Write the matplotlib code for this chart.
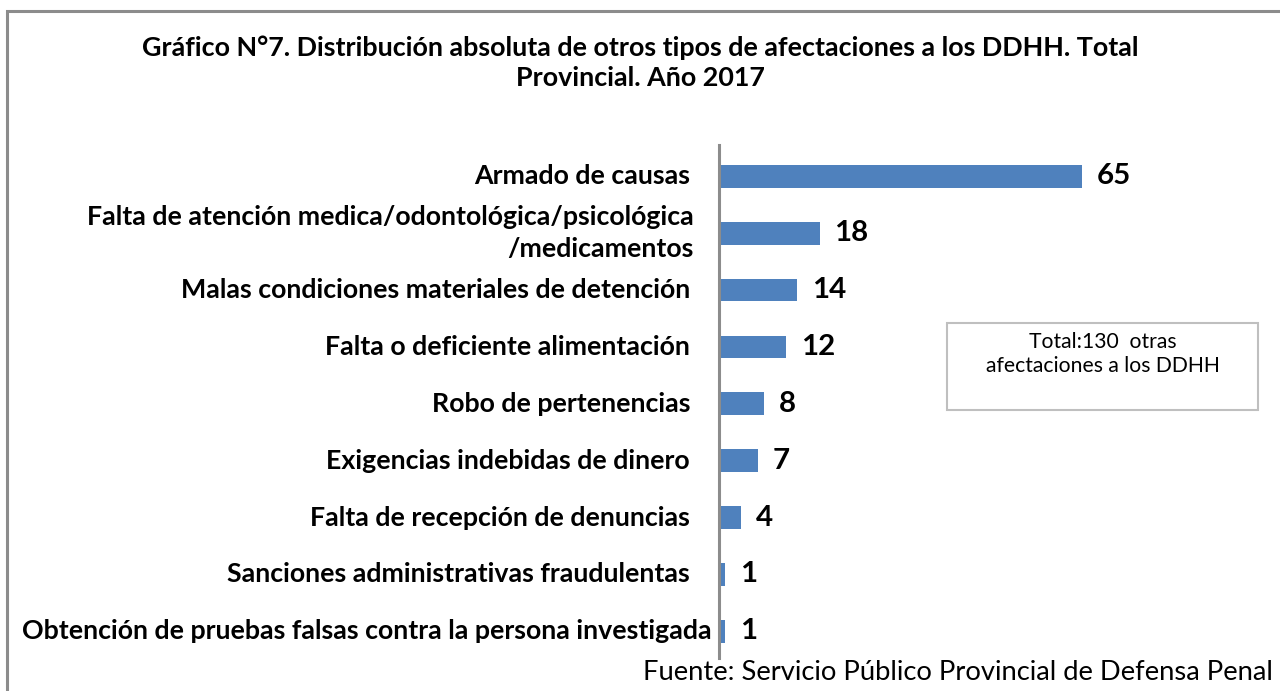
import matplotlib
matplotlib.use("Agg")
import matplotlib.pyplot as plt
from matplotlib.patches import Rectangle

categories = [
    "Armado de causas",
    "Falta de atención medica/odontológica/psicológica\n/medicamentos",
    "Malas condiciones materiales de detención",
    "Falta o deficiente alimentación",
    "Robo de pertenencias",
    "Exigencias indebidas de dinero",
    "Falta de recepción de denuncias",
    "Sanciones administrativas fraudulentas",
    "Obtención de pruebas falsas contra la persona investigada",
]
values = [65, 18, 14, 12, 8, 7, 4, 1, 1]
title = "Gráfico N°7. Distribución absoluta de otros tipos de afectaciones a los DDHH. Total\nProvincial. Año 2017"
total_note = "Total:130  otras\nafectaciones a los DDHH"
source = "Fuente: Servicio Público Provincial de Defensa Penal"

W, H = 1280, 691
DPI = 100
FONT = "Lato"
BAR = "#4F81BD"
GRAY = "#8C8C8C"

fig = plt.figure(figsize=(W / DPI, H / DPI), dpi=DPI)
fig.patch.set_facecolor("white")
renderer = fig.canvas.get_renderer()


def fit(t, target_px):
    bb = t.get_window_extent(renderer=renderer)
    t.set_fontsize(t.get_fontsize() * target_px / bb.width)


def px2fig(x, y):
    return x / W, 1 - y / H


# outer frame
fig.add_artist(Rectangle(px2fig(7, 700), (1290 - 7) / W, (700 - 11) / H,
                         transform=fig.transFigure, fill=False,
                         edgecolor=GRAY, linewidth=2.2, clip_on=False))

# axes: x from 719 to 1262 px, y from 145 to 658 px
ax_l, ax_r, ax_t, ax_b = 719, 1262, 145, 658
ax = fig.add_axes([ax_l / W, 1 - ax_b / H, (ax_r - ax_l) / W, (ax_b - ax_t) / H])
ax.set_facecolor("none")
px_per_unit = (1082 - 719) / 65.0
ax.set_xlim(0, (ax_r - ax_l) / px_per_unit)
n = len(categories)
ax.set_ylim(n - 0.53, -0.55)
pos = list(range(n))
ax.barh(pos, values, height=0.4, color=BAR, edgecolor="none")
for s in ["top", "right", "bottom"]:
    ax.spines[s].set_visible(False)
ax.spines["left"].set_color(GRAY)
ax.spines["left"].set_linewidth(2.2)
ax.set_xticks([])
ax.set_yticks([])

label_texts = []
for i, c in enumerate(categories):
    off = -29
    if i == 1:
        off = -25
    if i == n - 1:
        off = -7
    t = ax.annotate(c, xy=(0, i), xycoords="data", xytext=(off * 0.72, 0),
                    textcoords="offset points", ha="right", va="center",
                    fontsize=15, fontweight="bold", family=FONT,
                    multialignment="right", linespacing=1.38)
    label_texts.append(t)
fit(label_texts[-1], 694)
fs = label_texts[-1].get_fontsize()
for t in label_texts:
    t.set_fontsize(fs)

for i, v in enumerate(values):
    ax.annotate(str(v), xy=(v, i), xycoords="data", xytext=(15 * 0.72, 0),
                textcoords="offset points", ha="left", va="center",
                fontsize=fs * 1.1, fontweight="bold", family=FONT)

tt = fig.text(640 / W, 1 - 63 / H, title, ha="center", va="center",
              fontsize=15, fontweight="bold", family=FONT, linespacing=1.3)
t_line = fig.text(0, 0, title.split("\n")[0], fontsize=15, fontweight="bold", family=FONT)
bb = t_line.get_window_extent(renderer=renderer)
tt.set_fontsize(15 * 1000 / bb.width)
t_line.remove()

src = fig.text(1273 / W, 1 - 672 / H, source, ha="right", va="center",
               fontsize=15, family=FONT)
fit(src, 632)

# note box
x0, y0, x1, y1 = 947, 323, 1258, 410
fig.add_artist(Rectangle(px2fig(x0, y1), (x1 - x0) / W, (y1 - y0) / H,
                         transform=fig.transFigure, fill=True, facecolor="white",
                         edgecolor="#BFBFBF", linewidth=1.5))
nt = fig.text((x0 + x1) / 2 / W, 1 - 354 / H, total_note, ha="center", va="center",
              fontsize=13, family=FONT, linespacing=1.25)
tmp = fig.text(0, 0, total_note.split("\n")[1], fontsize=13, family=FONT)
bb = tmp.get_window_extent(renderer=renderer)
nt.set_fontsize(13 * 233 / bb.width)
tmp.remove()

fig.savefig("out.png", dpi=DPI, facecolor="white")
